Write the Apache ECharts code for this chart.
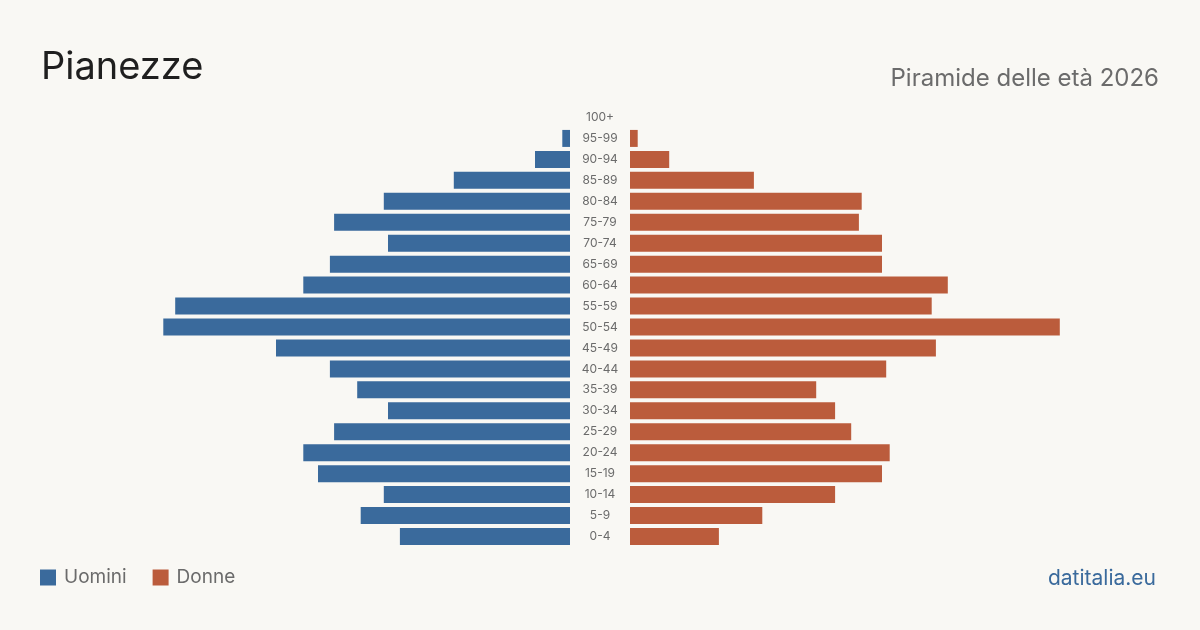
<!DOCTYPE html>
<html>
<head>
  <meta charset="utf-8">
  <script src="https://cdn.jsdelivr.net/npm/echarts@6.0.0/dist/echarts.min.js"></script>
  <style>
    body { margin: 0; padding: 0; background: #f9f8f4; }
    #main { width: 1200px; height: 630px; }
  </style>
</head>
<body>
<div id="main"></div>
<script>
  // fasce d'età dall'alto verso il basso
  var ageGroups = ['100+', '95-99', '90-94', '85-89', '80-84', '75-79', '70-74', '65-69', '60-64', '55-59',
    '50-54', '45-49', '40-44', '35-39', '30-34', '25-29', '20-24', '15-19', '10-14', '5-9', '0-4'];
  var uomini = [0, 11, 50, 166, 266, 337, 260, 343, 381, 564, 581, 420, 343, 304, 260, 337, 381, 360, 266, 299, 243];
  var donne = [0, 11, 56, 177, 331, 327, 360, 360, 454, 431, 614, 437, 366, 266, 293, 316, 371, 360, 293, 189, 127];

  var blu = '#3a6a9c';
  var rosso = '#bb5c3c';
  var maxVal = 800; // 560px di larghezza per lato

  var myChart = echarts.init(document.getElementById('main'));

  myChart.setOption({
    backgroundColor: '#f9f8f4',
    animation: false,
    textStyle: { fontFamily: 'Inter, Roboto, sans-serif' },
    title: [
      {
        text: 'Pianezze', left: 36, top: 44,
        textStyle: { fontSize: 38, fontWeight: 'normal', color: '#1f1f1f', fontFamily: 'Inter' }
      },
      {
        text: 'Piramide delle età 2026', right: 36, top: 62,
        textStyle: { fontSize: 24, fontWeight: 'normal', color: '#6b6b6b', fontFamily: 'Inter' }
      },
      {
        text: 'datitalia.eu', right: 39, top: 563,
        textStyle: { fontSize: 21, fontWeight: 'normal', color: '#3a6a9c', fontFamily: 'Inter' }
      }
    ],
    legend: {
      left: 40, top: 568, padding: 0,
      itemWidth: 16, itemHeight: 16, itemGap: 26,
      icon: 'rect',
      textStyle: { fontSize: 19, color: '#6b6b6b', fontFamily: 'Inter', padding: [0, 0, 0, 3] },
      data: ['Uomini', 'Donne']
    },
    grid: [
      { left: 10, width: 560, top: 107, height: 440 },
      { left: 630, width: 560, top: 107, height: 440 }
    ],
    xAxis: [
      { gridIndex: 0, type: 'value', min: 0, max: maxVal, inverse: true, show: false },
      { gridIndex: 1, type: 'value', min: 0, max: maxVal, show: false }
    ],
    yAxis: [
      {
        gridIndex: 0, type: 'category', data: ageGroups, inverse: true, position: 'right',
        axisLine: { show: false }, axisTick: { show: false },
        axisLabel: { align: 'center', margin: 30, fontSize: 12, color: '#6b6b6b', fontFamily: 'Inter' }
      },
      {
        gridIndex: 1, type: 'category', data: ageGroups, inverse: true, show: false
      }
    ],
    series: [
      {
        name: 'Uomini', type: 'bar', xAxisIndex: 0, yAxisIndex: 0,
        data: uomini, barWidth: 17, itemStyle: { color: blu }
      },
      {
        name: 'Donne', type: 'bar', xAxisIndex: 1, yAxisIndex: 1,
        data: donne, barWidth: 17, itemStyle: { color: rosso }
      }
    ]
  });
</script>
</body>
</html>
